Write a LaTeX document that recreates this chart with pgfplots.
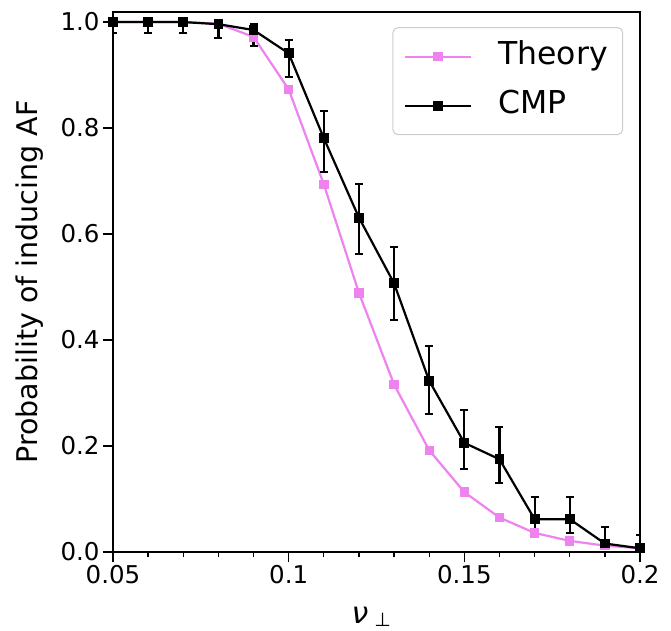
\documentclass[border=0pt]{standalone}
\usepackage{pgfplots}
\usepackage{pgfplotstable}
\pgfplotsset{compat=1.18}
\usepackage{fontspec}
\setmainfont{DejaVu Sans}
\definecolor{violetc}{HTML}{EE82EE}
\definecolor{legframe}{HTML}{CCCCCC}

\pgfplotstableread{
x y
0.05 1.000
0.06 1.000
0.07 1.000
0.08 0.997
0.09 0.972
0.10 0.873
0.11 0.694
0.12 0.489
0.13 0.316
0.14 0.192
0.15 0.113
0.16 0.065
0.17 0.036
0.18 0.021
0.19 0.012
0.20 0.007
}\theory

\pgfplotstableread{
x y ep em
0.05 1.000 0.000 0.021
0.06 1.000 0.000 0.021
0.07 1.000 0.000 0.021
0.08 0.996 0.006 0.027
0.09 0.985 0.011 0.030
0.10 0.941 0.025 0.044
0.11 0.781 0.051 0.063
0.12 0.631 0.063 0.069
0.13 0.507 0.068 0.069
0.14 0.323 0.066 0.063
0.15 0.206 0.062 0.050
0.16 0.175 0.060 0.044
0.17 0.062 0.042 0.027
0.18 0.062 0.042 0.027
0.19 0.016 0.031 0.009
0.20 0.007 0.026 0.007
}\cmp

\begin{document}
\begin{tikzpicture}
\useasboundingbox (-113pt,-78pt) rectangle (558pt,552pt);
\begin{axis}[
  scale only axis, width=527pt, height=540pt,
  xmin=0.05, xmax=0.2, ymin=0, ymax=1.019,
  xtick={0.05,0.1,0.15,0.2}, xticklabels={0.05,0.1,0.15,0.2},
  minor xtick={0.06,0.07,0.08,0.09,0.11,0.12,0.13,0.14,0.16,0.17,0.18,0.19},
  ytick={0,0.2,0.4,0.6,0.8,1.0}, yticklabels={0.0,0.2,0.4,0.6,0.8,1.0},
  /pgf/number format/assume math mode=true,
  tick align=outside, xtick pos=bottom, ytick pos=left,
  major tick length=10pt, minor tick length=5pt,
  every tick/.style={black, line width=1.3pt},
  axis line style={line width=1.3pt},
  tick label style={font=\fontsize{24.5}{28}\selectfont},
  xlabel={\fontsize{30}{36}\selectfont\itshape ν\hspace{6pt}\raisebox{-3pt}{\upshape\fontsize{19}{19}\selectfont ⊥}},
  xlabel style={at={(axis description cs:0.49,-0.1315)}, anchor=base},
  ylabel={Probability of inducing AF},
  ylabel style={font=\fontsize{28.5}{34}\selectfont, at={(axis description cs:-0.1584,0.5)}, anchor=center},
  legend style={at={(0.968,0.972)}, anchor=north east, draw=legframe, rounded corners=5pt, line width=1pt,
    font=\fontsize{31.5}{36}\selectfont, inner xsep=11pt, inner ysep=14pt, row sep=19pt,
    nodes={inner xsep=4pt, inner ysep=0pt, text height=23pt, text depth=7pt}},
  legend cell align=left,
  legend image code/.code={\draw[mark repeat=2,mark phase=2,#1] plot coordinates {(0pt,0pt) (33pt,0pt) (66pt,0pt)};
    \path (88pt,0pt);},
]
\addplot[violetc, line width=2.2pt, mark=square*, mark size=3.6pt, mark options={solid, fill=violetc}] table[x=x,y=y]{\theory};
\addlegendentry{Theory}
\addplot[black, line width=2.2pt, mark=square*, mark size=3.8pt, mark options={solid, fill=black},
  error bars/.cd, y dir=both, y explicit,
  error bar style={line width=2.2pt},
  error mark options={rotate=90, mark size=4pt, line width=2pt}]
  table[x=x,y=y,y error plus=ep,y error minus=em]{\cmp};
\addlegendentry{CMP}
\end{axis}
\end{tikzpicture}
\end{document}
